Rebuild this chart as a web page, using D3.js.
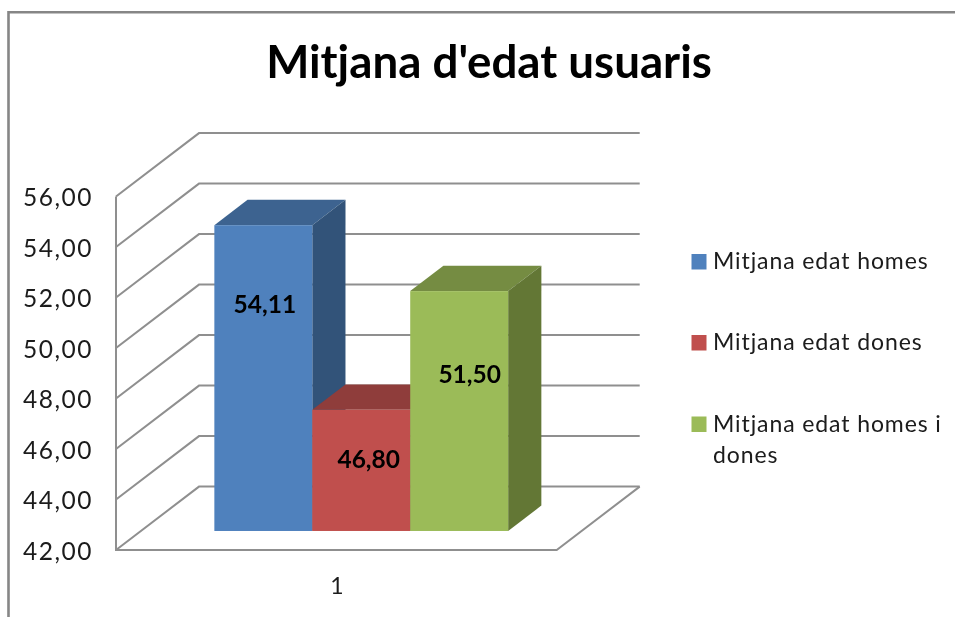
<!DOCTYPE html>
<html><head><meta charset="utf-8">
<style>html,body{margin:0;padding:0;background:#fff}svg{display:block}text{font-family:Lato,sans-serif;fill:#1a1a1a}</style>
<script src="https://cdnjs.cloudflare.com/ajax/libs/d3/7.8.5/d3.min.js"></script></head>
<body><svg width="955" height="617"></svg>
<script>
const title = "Mitjana d'edat usuaris";
const categories = ["1"];
const seriesNames = ["Mitjana edat homes","Mitjana edat dones","Mitjana edat homes i dones"];
const seriesValues = [54.11,46.80,51.50];
const valueLabels = ["54,11","46,80","51,50"];
const tickValues = [42,44,46,48,50,52,54,56];
const barColors = ["#4f81bd","#c0504d","#9bbb59"];
const topColors = ["#3c6490","#8f3c3a","#748c43"];
const sideColors = ["#325379","#7f3533","#637735"];

const svg = d3.select("svg");
const root = svg.append("g").attr("filter","url(#soft)");
const defs = svg.append("defs");
defs.append("filter").attr("id","soft").attr("x",0).attr("y",0).attr("width",955).attr("height",617)
  .attr("filterUnits","userSpaceOnUse")
  .append("feGaussianBlur").attr("stdDeviation",0.55);

// plot geometry
const y = d3.scaleLinear().domain([42,56]).range([550,196.5]);
const x0 = d3.scaleBand().domain(categories).range([116,556.7]).paddingInner(0).paddingOuter(0.25);
const x1 = d3.scaleBand().domain(seriesNames).range([x0(categories[0]),x0(categories[0])+x0.bandwidth()]);
const dx = 83, dy = -63.4;                 // full floor depth
const barDepthStart = 0.3, barDepth = 0.4; // bar position on the floor
const grey = "#8f8f8f";
const poly = pts => pts.map(p=>p.join(",")).join(" ");

// frame
root.append("path").attr("d","M8.5,617V12.3H955").attr("fill","none").attr("stroke","#868686").attr("stroke-width",2.6);

// gridlines & walls
const grid = root.append("g").attr("fill","none").attr("stroke",grey).attr("stroke-width",2);
const right = x0.range()[1];
const left = x0.range()[0];
tickValues.forEach(t=>{
  grid.append("path").attr("d",`M${left},${y(t)}L${left+dx},${y(t)+dy}H${right+dx}`);
});
grid.append("path").attr("d",`M${left},${y(56)}V${y(42)}H${right}L${right+dx},${y(42)+dy}`);

// tick labels
root.append("g").selectAll("text").data(tickValues).join("text")
  .attr("x",93).attr("y",t=>y(t)+9.5).attr("text-anchor","end").attr("font-size",24.5).attr("letter-spacing",1.5)
  .text(t=>d3.format(".2f")(t).replace(".",","));
root.append("text").attr("x",(left+right)/2+0.5).attr("y",594).attr("text-anchor","middle").attr("font-size",23).text(categories[0]);

// bars
const bars = root.append("g");
seriesNames.forEach((s,i)=>{
  const xa = x1(s)+dx*barDepthStart, xb = xa+x1.bandwidth();
  const sy = dy*barDepthStart;
  const top = y(seriesValues[i])+sy, base = y(42)+sy;
  const ox = dx*barDepth, oy = dy*barDepth;
  bars.append("polygon").attr("points",poly([[xa,top],[xb,top],[xb+ox,top+oy],[xa+ox,top+oy]])).attr("fill",topColors[i]);
  bars.append("polygon").attr("points",poly([[xb,top],[xb+ox,top+oy],[xb+ox,base+oy],[xb,base]])).attr("fill",sideColors[i]);
  bars.append("rect").attr("x",xa).attr("y",top).attr("width",x1.bandwidth()).attr("height",base-top).attr("fill",barColors[i]);
});

// data labels
const labelPlacement = [[0.5,0.262,1.5],[0.5,0.415,7.5],[0.5,0.35,10.5]];
seriesNames.forEach((s,i)=>{
  const xa = x1(s)+dx*barDepthStart, sy = dy*barDepthStart;
  const top = y(seriesValues[i])+sy, base = y(42)+sy;
  root.append("text").attr("x",xa+x1.bandwidth()*labelPlacement[i][0]+labelPlacement[i][2])
    .attr("y",top+(base-top)*labelPlacement[i][1]+8).attr("text-anchor","middle")
    .attr("font-size",24.5).attr("font-weight",700).style("fill","#000").text(valueLabels[i]);
});

// title
root.append("text").attr("x",489).attr("y",78).attr("text-anchor","middle")
  .attr("font-size",45.7).attr("font-weight",700).style("fill","#000").text(title);

// legend
const legendTop = [254,335,416.5];
const legendLines = [[seriesNames[0]],[seriesNames[1]],["Mitjana edat homes i","dones"]];
seriesNames.forEach((s,i)=>{
  root.append("rect").attr("x",691.5).attr("y",legendTop[i]).attr("width",15).attr("height",15.5).attr("fill",barColors[i]);
  legendLines[i].forEach((l,j)=>{
    root.append("text").attr("x",713).attr("y",legendTop[i]+15+j*31).attr("font-size",23).attr("letter-spacing",0.9).text(l);
  });
});
</script></body></html>
